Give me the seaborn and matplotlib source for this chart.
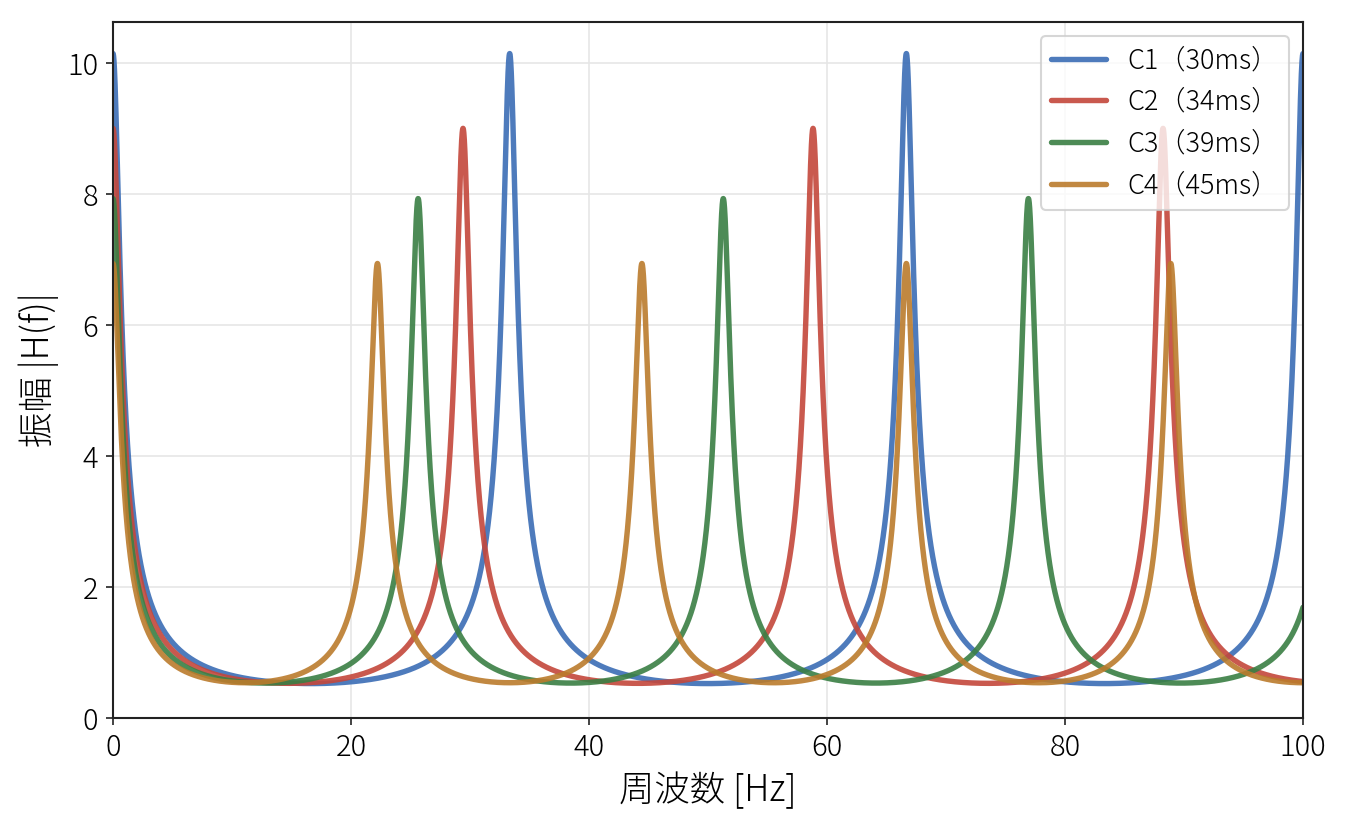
import numpy as np
import pandas as pd
import seaborn as sns
from matplotlib import pyplot as plt

# comb filters: delay [ms] and feedback gain read from the peaks / troughs
names = ['C1', 'C2', 'C3', 'C4']
delays_ms = [30, 34, 39, 45]
gains = [0.9015, 0.889, 0.874, 0.856]
colors = ['#3b6db5', '#c4473b', '#3a7f44', '#bb7b2c']

freq = np.linspace(0, 100, 20001)

frames = []
for name, d, g in zip(names, delays_ms, gains):
    tau = d / 1000.0
    h = 1.0 / np.abs(1 - g * np.exp(-2j * np.pi * freq * tau))
    frames.append(pd.DataFrame({'f': freq, 'H': h, 'comb': f'{name}（{d}ms）'}))
df = pd.concat(frames, ignore_index=True)

sns.set_style('ticks')
plt.rcParams['font.family'] = ['Noto Sans CJK JP', 'DejaVu Sans']
plt.rcParams['font.weight'] = 'light'
plt.rcParams['axes.labelweight'] = 'light'
plt.rcParams['text.color'] = 'black'
plt.rcParams['axes.labelcolor'] = 'black'
plt.rcParams['xtick.color'] = '#222222'
plt.rcParams['ytick.color'] = '#222222'
plt.rcParams['xtick.labelcolor'] = 'black'
plt.rcParams['ytick.labelcolor'] = 'black'

fig, ax = plt.subplots(figsize=(9, 5.5), dpi=150)
sns.lineplot(data=df, x='f', y='H', hue='comb', palette=colors,
             linewidth=2.6, alpha=0.9, ax=ax, sort=False, estimator=None)

ax.set_xlim(0, 100)
ax.set_ylim(bottom=0)
ax.grid(True, color='#e6e6e6', linewidth=0.8)
ax.set_axisbelow(True)
ax.tick_params(labelsize=14)
ax.set_xlabel('周波数 [Hz]', fontsize=17)
ax.set_ylabel('振幅 |H(f)|', fontsize=17)
for s in ax.spines.values():
    s.set_color('#222222')
    s.set_linewidth(1.0)
ax.legend(loc='upper right', fontsize=13, framealpha=0.8, title=None)

plt.subplots_adjust(left=0.0837, right=0.9652, top=0.9733, bottom=0.1297)
plt.savefig('out.png', dpi=150)
